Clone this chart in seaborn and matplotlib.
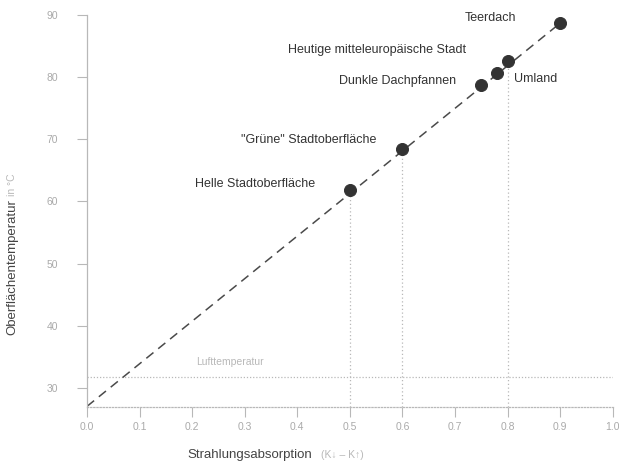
import numpy as np
import pandas as pd
import matplotlib
matplotlib.use("Agg")
import matplotlib.pyplot as plt
import seaborn as sns

# surfaces, radiation absorption and surface temperature
surfaces = ["Helle Stadtoberfläche", "\"Grüne\" Stadtoberfläche", "Dunkle Dachpfannen",
            "Heutige mitteleuropäische Stadt", "Umland", "Teerdach"]
absorption = [0.5, 0.6, 0.75, 0.78, 0.8, 0.9]
surface_temp = [61.8, 68.4, 78.8, 80.7, 82.6, 88.7]

# label anchor points (left edge of text)
label_x = [0.205, 0.293, 0.479, 0.382, 0.812, 0.719]
label_y = [62.8, 69.9, 79.4, 84.4, 79.7, 89.5]

# trend line and air temperature
trend_x = [0.0, 0.9]
trend_y = [27.0, 88.7]
air_temp = 31.7
drop_lines = ["Helle Stadtoberfläche", "\"Grüne\" Stadtoberfläche", "Umland"]

xticks = [0.0, 0.1, 0.2, 0.3, 0.4, 0.5, 0.6, 0.7, 0.8, 0.9, 1.0]
yticks = [30, 40, 50, 60, 70, 80, 90]

df = pd.DataFrame({"surface": surfaces, "absorption": absorption, "temp": surface_temp})

sns.set_style("white")
plt.rcParams["font.family"] = ["Liberation Sans", "DejaVu Sans"]

fig = plt.figure(figsize=(6.19, 4.65), dpi=100)
ax = fig.add_axes([0.1405, 0.1247, 0.8495, 0.843])

light = "#b8b8b8"

# dotted helper lines
ax.axhline(air_temp, color=light, lw=0.9, ls=(0, (1, 1.5)), zorder=1)
drop = df[df["surface"].isin(drop_lines)]
ax.vlines(drop["absorption"], 26.9, drop["temp"], color=light, lw=0.9,
          linestyles=(0, (1, 2)), zorder=1)

sns.lineplot(x=trend_x, y=trend_y, ax=ax, color="#4a4a4a", lw=1.1,
             dashes=False, zorder=2)
ax.lines[-1].set_dashes((6, 4))

sns.scatterplot(data=df, x="absorption", y="temp", ax=ax, s=75, color="#333333",
                edgecolor="#333333", zorder=3)

for name, tx, ty in zip(surfaces, label_x, label_y):
    ax.text(tx, ty, name, fontsize=9, color="#333333", ha="left", va="center")

ax.text(0.207, 34.1, "Lufttemperatur", fontsize=7.5, color=light, ha="left", va="center")

ax.set_xlim(0, 1.0)
ax.set_ylim(26.9, 90)
ax.set_xticks(xticks)
ax.set_xticklabels([f"{t:.1f}" for t in xticks])
ax.set_yticks(yticks)
ax.tick_params(axis="x", direction="out", length=7, width=0.8, color=light,
               labelsize=7.5, labelcolor="#aaaaaa", pad=4, bottom=True)
ax.tick_params(axis="y", direction="out", length=7, width=0.8, color=light,
               labelsize=7.5, labelcolor="#aaaaaa", pad=14, left=True)

sns.despine(ax=ax)
ax.spines["left"].set_color(light)
ax.spines["left"].set_linewidth(0.9)
ax.spines["bottom"].set_color(light)
ax.spines["bottom"].set_linewidth(0.9)
ax.spines["bottom"].set_linestyle((0, (1, 1.5)))

ax.set_xlabel("")
ax.set_ylabel("")

fig.text(0.302, 0.021, "Strahlungsabsorption", fontsize=9.5, color="#444444",
         ha="left", va="center")
fig.text(0.518, 0.021, "(K↓ – K↑)", fontsize=7.5, color=light, ha="left", va="center")
fig.text(0.02, 0.28, "Oberflächentemperatur", fontsize=9.5, color="#444444",
         rotation=90, ha="center", va="bottom")
fig.text(0.02, 0.578, "in °C", fontsize=7.5, color=light, rotation=90,
         ha="center", va="bottom")

fig.savefig("out.png", dpi=100)
